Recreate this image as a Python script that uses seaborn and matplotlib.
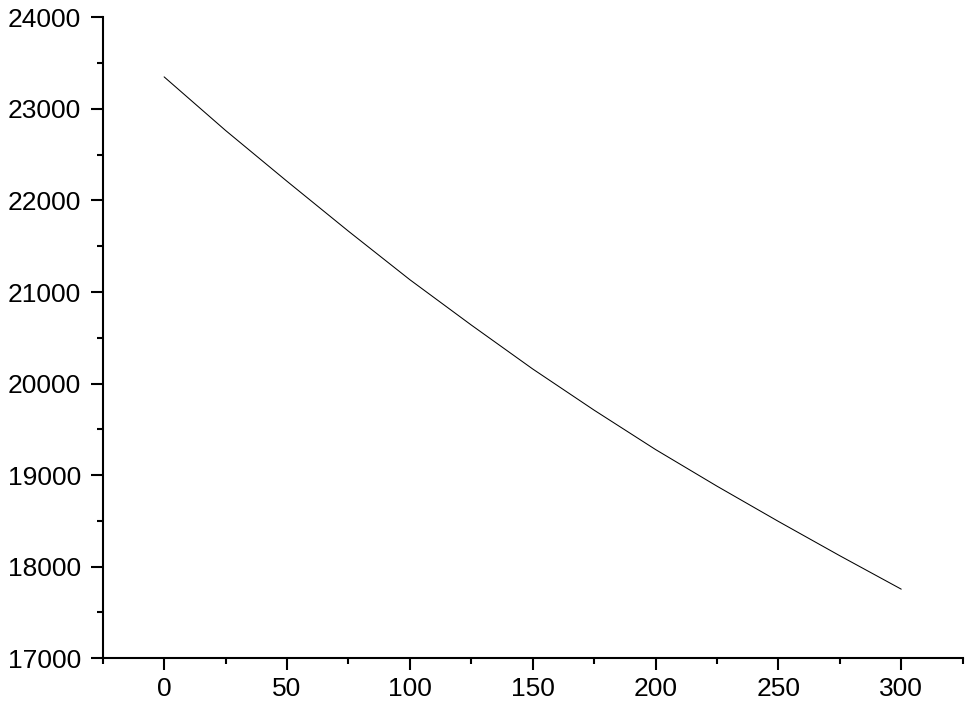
import numpy as np
import pandas as pd
import seaborn as sns
import matplotlib.pyplot as plt
from matplotlib.ticker import MultipleLocator

# values
x_vals = [0, 25, 50, 75, 100, 125, 150, 175, 200, 225, 250, 275, 300]
y_vals = [23350, 22765, 22210, 21665, 21135, 20640, 20160, 19710, 19280, 18880, 18495, 18120, 17755]

df = pd.DataFrame({'x': x_vals, 'y': y_vals})

sns.set_style("ticks")
plt.rcParams['font.family'] = ['Liberation Sans', 'DejaVu Sans']

fig = plt.figure(figsize=(9.67, 7.06), dpi=100)
ax = fig.add_axes([0.1062, 0.0676, 0.8893, 0.9078])

sns.lineplot(data=df, x='x', y='y', ax=ax, color='black', linewidth=0.75)

ax.set_xlim(-25, 325)
ax.set_ylim(17000, 24000)
ax.xaxis.set_major_locator(MultipleLocator(50))
ax.xaxis.set_minor_locator(MultipleLocator(25))
ax.yaxis.set_major_locator(MultipleLocator(1000))
ax.yaxis.set_minor_locator(MultipleLocator(500))

ax.set_xlabel('')
ax.set_ylabel('')
for s in ['top', 'right']:
    ax.spines[s].set_visible(False)
for s in ['left', 'bottom']:
    ax.spines[s].set_linewidth(1.5)
    ax.spines[s].set_color('black')

ax.tick_params(which='major', length=8.6, width=1.5, colors='black', labelsize=19, direction='out')
ax.tick_params(which='minor', length=4.3, width=1.5, colors='black', direction='out')
ax.tick_params(axis='y', which='major', pad=7)
ax.tick_params(axis='x', which='major', pad=5)

fig.savefig('out.png', dpi=100)
